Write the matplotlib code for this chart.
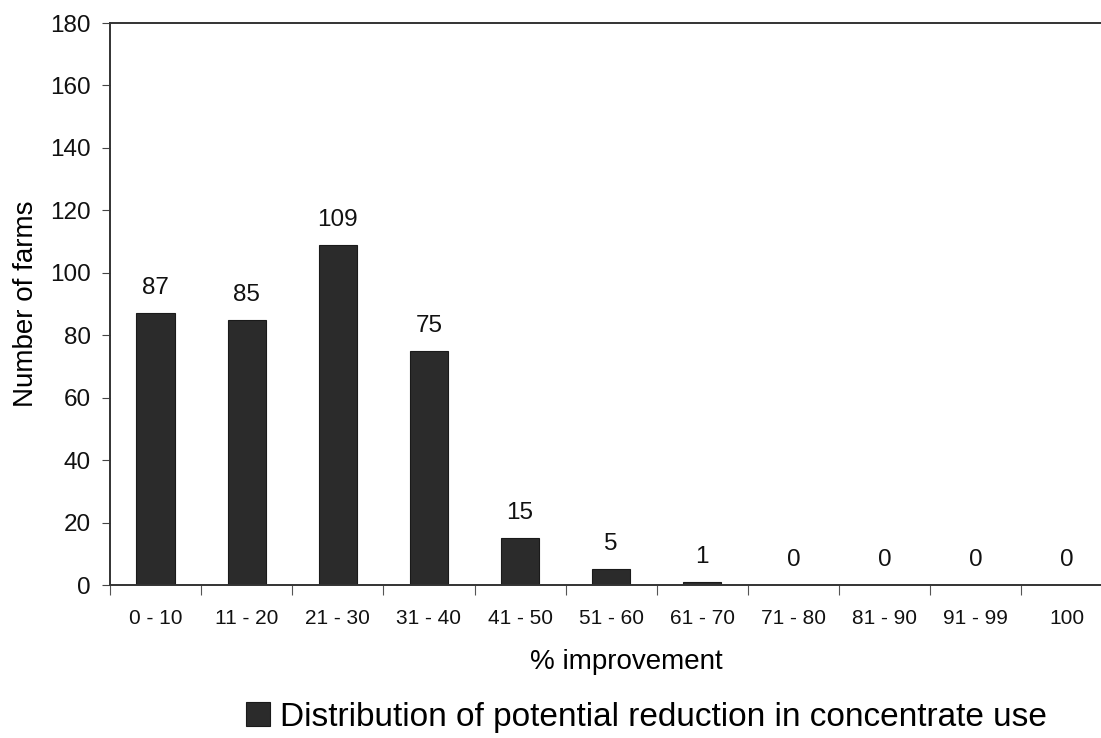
import matplotlib.pyplot as plt
import numpy as np

plt.rcParams['font.family'] = ['Liberation Sans', 'DejaVu Sans']

categories = ['0 - 10', '11 - 20', '21 - 30', '31 - 40', '41 - 50', '51 - 60',
              '61 - 70', '71 - 80', '81 - 90', '91 - 99', '100']
farms = [87, 85, 109, 75, 15, 5, 1, 0, 0, 0, 0]

fig = plt.figure(figsize=(11.01, 7.38), dpi=100)
# axes runs slightly past the right edge, as in the source
ax = fig.add_axes([0.0999, 0.2073, 0.9105, 0.7615])

x = np.arange(len(categories))
bars = ax.bar(x, farms, width=0.42, color='#2b2b2b', edgecolor='#1a1a1a',
              linewidth=0.8, label='Distribution of potential reduction in concentrate use')

for xi, v in zip(x, farms):
    ax.text(xi, v + 4.5, str(v), ha='center', va='bottom', fontsize=17.5, color='#111111')

ax.set_xlim(-0.5, len(categories) - 0.5)
ax.set_ylim(0, 180)
ax.set_yticks(range(0, 181, 20))
ax.tick_params(axis='y', labelsize=17.5, length=6, width=0.8, pad=8,
               colors='#444444', labelcolor='#111111')

# category labels centred, tick marks between categories
ax.set_xticks(x)
ax.set_xticklabels(categories, fontsize=15, color='#111111')
ax.tick_params(axis='x', length=0, pad=17)
ax.set_xticks(np.arange(-0.5, len(categories), 1), minor=True)
ax.tick_params(axis='x', which='minor', length=7, width=0.8, colors='#555555')

for side in ['left', 'bottom', 'top']:
    ax.spines[side].set_linewidth(1.4)
    ax.spines[side].set_color('#333333')
ax.spines['right'].set_visible(False)

ax.set_ylabel('Number of farms', fontsize=20)
ax.yaxis.set_label_coords(-0.071, 0.5)
ax.set_xlabel('% improvement', fontsize=20)
ax.xaxis.set_label_coords(0.515, -0.113)

fig.legend(handles=[bars], loc='center', bbox_to_anchor=(0.587, 0.028),
           frameon=False, fontsize=24, handlelength=0.7, handleheight=0.75,
           handletextpad=0.3)

fig.savefig('out.png', dpi=100)
